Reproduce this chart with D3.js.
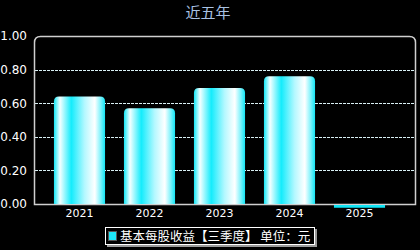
<!DOCTYPE html>
<html lang="zh">
<head>
    <meta charset="UTF-8">
    <title>近五年</title>
    <style>
        body {
            margin: 0;
            background-color: #000;
        }
        svg {
            display: block;
            background-color: #000;
        }
        text {
            font-family: "DejaVu Sans", "Noto Sans CJK SC", sans-serif;
        }
    </style>
</head>
<body>
    <script src="https://d3js.org/d3.v7.min.js"></script>
    <script>
        const width = 420;
        const height = 250;

        // data
        const years = ["2021", "2022", "2023", "2024", "2025"];
        const eps = [0.64, 0.57, 0.69, 0.76, -0.01];
        const yTicks = [0, 0.2, 0.4, 0.6, 0.8, 1.0];
        const seriesName = "基本每股收益【三季度】 单位：元";

        const plot = { left: 35, right: 415, top: 36, bottom: 204 };

        const svg = d3.select("body")
            .append("svg")
            .attr("width", width)
            .attr("height", height);

        const x = d3.scaleBand()
            .domain(years)
            .range([44.5, 394.5])
            .paddingInner(0.27)
            .paddingOuter(0.135);

        const y = d3.scaleLinear()
            .domain([0, 1])
            .range([plot.bottom, plot.top]);

        // gradient for the bars
        const defs = svg.append("defs");
        const grad = defs.append("linearGradient")
            .attr("id", "barGrad")
            .attr("x1", "0%").attr("x2", "100%")
            .attr("y1", "0%").attr("y2", "0%");
        [
            [0, "#12e6f6"],
            [0.12, "#f4ffff"],
            [0.34, "#14ecfc"],
            [0.6, "#b4f8ff"],
            [0.8, "#ffffff"],
            [0.9, "#8ff4fc"],
            [1, "#12e6f6"]
        ].forEach(s => grad.append("stop").attr("offset", s[0]).attr("stop-color", s[1]));

        // title
        svg.append("text")
            .attr("x", 208)
            .attr("y", 18)
            .attr("text-anchor", "middle")
            .style("font-family", "'Noto Sans CJK SC', sans-serif")
            .style("font-size", "15px")
            .style("fill", "#a9c1e2")
            .text("近五年");

        // grid lines
        svg.append("g")
            .selectAll("line")
            .data(yTicks.filter(d => d > 0 && d < 1))
            .enter()
            .append("line")
            .attr("x1", plot.left)
            .attr("x2", plot.right)
            .attr("y1", d => Math.round(y(d)) + 0.5)
            .attr("y2", d => Math.round(y(d)) + 0.5)
            .style("stroke", "#d8f0f4")
            .style("stroke-width", 1)
            .style("stroke-dasharray", "3,1");

        // frame with rounded top corners
        const r = 6;
        const L = plot.left - 0.5, R = plot.right + 0.5, T = plot.top + 0.5, B = plot.bottom + 0.5;
        svg.append("path")
            .attr("d", `M${L},${B} V${T + r} Q${L},${T} ${L + r},${T} H${R - r} Q${R},${T} ${R},${T + r} V${B} Z`)
            .style("fill", "none")
            .style("stroke", "#cfcfcf")
            .style("stroke-width", 1.5);

        // y labels
        svg.append("g")
            .selectAll("text")
            .data(yTicks)
            .enter()
            .append("text")
            .attr("x", 27)
            .attr("y", d => y(d))
            .attr("dy", "0.36em")
            .attr("text-anchor", "end")
            .style("font-size", "12px")
            .style("fill", "#fff")
            .text(d => d.toFixed(2));

        // x labels
        svg.append("g")
            .selectAll("text")
            .data(years)
            .enter()
            .append("text")
            .attr("x", d => x(d) + x.bandwidth() / 2)
            .attr("y", 217)
            .attr("text-anchor", "middle")
            .style("font-size", "11px")
            .style("fill", "#fff")
            .text(d => d);

        // bars
        const barPath = (d, i) => {
            const x0 = x(years[i]), w = x.bandwidth();
            const y0 = y(0), y1 = y(d);
            if (d <= 0) {
                return `M${x0},${y0 + 1} H${x0 + w} V${y1 + 2} H${x0} Z`;
            }
            const rr = 5;
            return `M${x0},${y0} V${y1 + rr} Q${x0},${y1} ${x0 + rr},${y1} H${x0 + w - rr} Q${x0 + w},${y1} ${x0 + w},${y1 + rr} V${y0} Z`;
        };

        svg.append("g")
            .selectAll("path")
            .data(eps)
            .enter()
            .append("path")
            .attr("d", barPath)
            .style("fill", d => d > 0 ? "url(#barGrad)" : "#12e6f6");

        // legend
        const legend = svg.append("g").attr("transform", "translate(105,227)");
        legend.append("rect")
            .attr("x", 2).attr("y", 2)
            .attr("width", 210).attr("height", 18)
            .style("fill", "#9a9a9a");
        legend.append("rect")
            .attr("x", 0.5).attr("y", 0.5)
            .attr("width", 209).attr("height", 17)
            .style("fill", "#000")
            .style("stroke", "#fff")
            .style("stroke-width", 1);
        legend.append("rect")
            .attr("x", 3.5).attr("y", 4.5)
            .attr("width", 8).attr("height", 9)
            .style("fill", "#1ee6f6")
            .style("stroke", "#555")
            .style("stroke-width", 1);
        legend.append("text")
            .attr("x", 15)
            .attr("y", 9)
            .attr("dy", "0.36em")
            .style("font-family", "'Noto Sans CJK SC', sans-serif")
            .style("font-size", "12.5px")
            .style("fill", "#fff")
            .text(seriesName);
    </script>
</body>
</html>
